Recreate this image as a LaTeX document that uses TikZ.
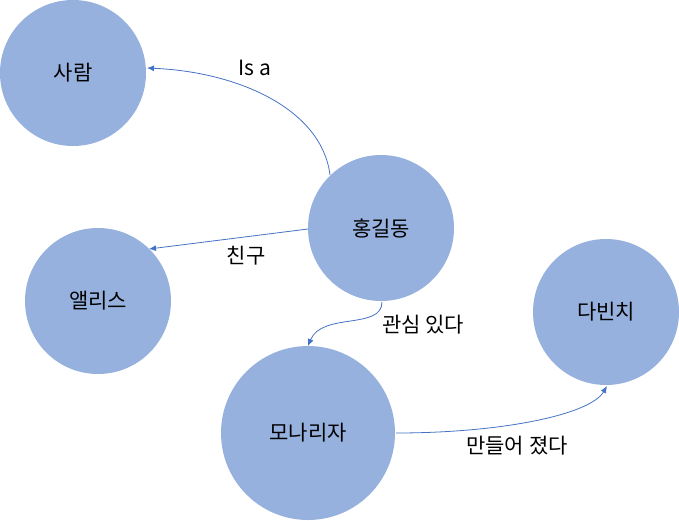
\documentclass[tikz,border=0pt]{standalone}
\usepackage{fontspec}
\setmainfont{Noto Sans CJK KR}
\usetikzlibrary{arrows.meta}
\definecolor{circfill}{RGB}{150,177,221}
\definecolor{linkblue}{RGB}{68,114,196}
\tikzset{
  ent/.style={circle, fill=circfill, draw=none, inner sep=0pt, font=\fontsize{21}{24}\selectfont},
  link/.style={draw=linkblue, line width=0.8pt, -{Latex[length=7pt,width=6pt]}},
  lbl/.style={font=\fontsize{21}{24}\selectfont, inner sep=0pt}
}
\begin{document}
\begin{tikzpicture}[x=1pt,y=-1pt]
\useasboundingbox (0,0) rectangle (679,520);
\node[ent, minimum size=146pt] (saram) at (73,73) {사람};
\node[ent, minimum size=146pt] (hong) at (381,228) {홍길동};
\node[ent, minimum size=146pt] (alice) at (98,301) {앨리스};
\node[ent, minimum size=146pt] (davinci) at (606,312) {다빈치};
\node[ent, minimum size=174pt] (mona) at (308,433) {모나리자};
\coordinate (h1) at (330,175);
\coordinate (h2) at (308,229);
\coordinate (h3) at (382,302);
\coordinate (m1) at (396,433);
\coordinate (saramE) at (147,68);
\coordinate (aliceE) at (149,249);
\coordinate (monaT) at (308,346);
\coordinate (davB) at (607,386);
\draw[link] (h1) .. controls (322,110) and (240,72) .. (saramE);
\draw[link] (h2) -- (aliceE);
\draw[link] (h3) .. controls (382,330) and (322,312) .. (monaT);
\draw[link] (m1) .. controls (500,433) and (590,415) .. (davB);
\node[lbl] (isa) at (255,68) {Is a};
\node[lbl] (friend) at (246,256) {친구};
\node[lbl] (interest) at (423,325) {관심 있다};
\node[lbl] (made) at (517,446) {만들어 졌다};
\end{tikzpicture}
\end{document}
